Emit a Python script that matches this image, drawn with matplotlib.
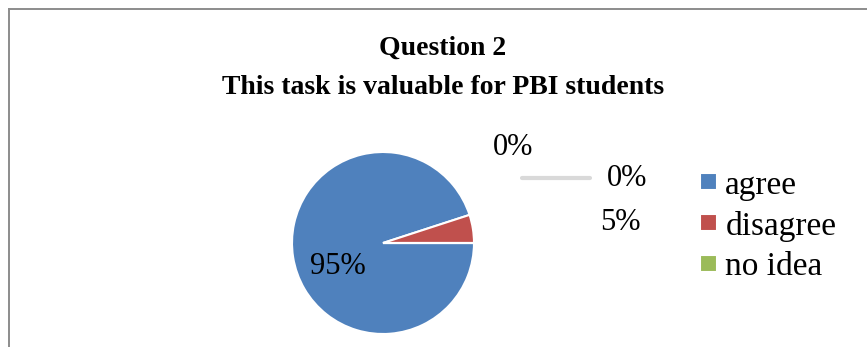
import matplotlib.pyplot as plt
from matplotlib.lines import Line2D

# survey data
categories = ['agree', 'disagree', 'no idea', '']
values = [95, 5, 0, 0]
colors = ['#4F81BD', '#C0504D', '#9BBB59', '#8064A2']
title_lines = ['Question 2', 'This task is valuable for PBI students']

W, H = 867, 347
plt.rcParams['font.family'] = ['Liberation Serif', 'DejaVu Serif']

fig = plt.figure(figsize=(W / 100, H / 100), dpi=100)
ax = fig.add_axes([0, 0, 1, 1])

# chart border (only left and top show in the crop)
fig.add_artist(Line2D([8.5 / W, 8.5 / W], [0, 1 - 9 / H], color='#8c8c8c', lw=1.4))
fig.add_artist(Line2D([8.5 / W, 1], [1 - 9 / H, 1 - 9 / H], color='#8c8c8c', lw=1.4))

ax.text(443, H - 48, title_lines[0], ha='center', va='center', fontsize=20, fontweight='bold')
ax.text(443, H - 87, title_lines[1], ha='center', va='center', fontsize=20, fontweight='bold')

wedges, texts, autotexts = ax.pie(values, colors=colors, center=(383, H - 243), radius=91,
                                  startangle=0, counterclock=False, autopct='%d%%',
                                  wedgeprops=dict(edgecolor='white', linewidth=1.5),
                                  textprops=dict(fontsize=22), frame=True)
ax.set_xlim(0, W)
ax.set_ylim(0, H)
ax.axis('off')

# label positions like the Excel layout
label_pos = [(338, H - 267), (620, H - 222), (627, H - 178), (513, H - 147)]
for t, (x, y) in zip(autotexts, label_pos):
    t.set_position((x, y))
    t.set_ha('center')
    t.set_va('center')
ax.plot([522, 590], [H - 178, H - 178], color='#d9d9d9', lw=3, solid_capstyle='round')

ax.legend(wedges[:3], categories[:3], loc='upper left', bbox_to_anchor=(687 / W, 1 - 157 / H),
          frameon=False, fontsize=24, handlelength=0.5, handleheight=0.4,
          handletextpad=0.25, labelspacing=0.3, borderaxespad=0)

fig.savefig('out.png', dpi=100)
